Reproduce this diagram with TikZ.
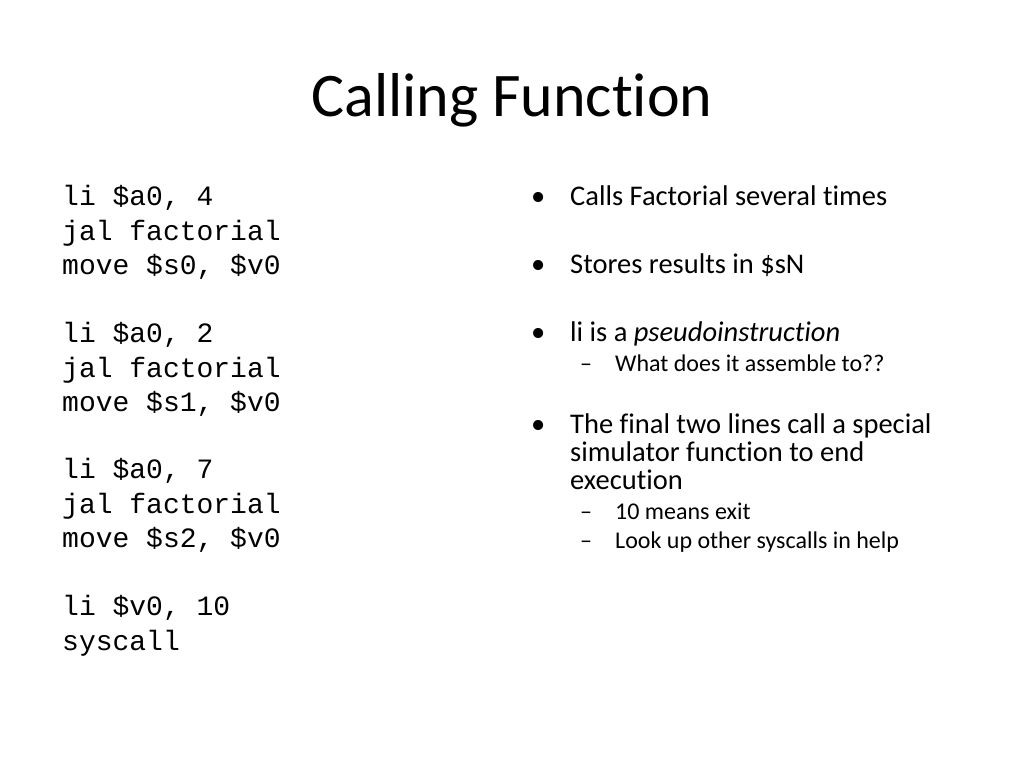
\documentclass[tikz,border=0pt]{standalone}
\usepackage{fontspec}
\setmainfont[Ligatures=NoCommon]{Carlito}
\newfontfamily\codefont{Liberation Mono}
\begin{document}
\begin{tikzpicture}[x=1pt,y=-1pt,
  code/.style={anchor=base west,inner sep=0pt,font=\codefont\fontsize{28}{30}\selectfont},
  btxt/.style={anchor=base west,inner sep=0pt,font=\fontsize{28.5}{30}\selectfont},
  stxt/.style={anchor=base west,inner sep=0pt,font=\fontsize{24}{26}\selectfont}]
\useasboundingbox[fill=white] (0,0) rectangle (1024,768);
\node[font=\fontsize{62}{66}\selectfont,anchor=base,inner sep=0pt] (title) at (512,116) {Calling Function};
\foreach \t/\y [count=\i] in {{li \$a0, 4}/205,{jal factorial}/240,{move \$s0, \$v0}/274,
 {li \$a0, 2}/342,{jal factorial}/377,{move \$s1, \$v0}/411,
 {li \$a0, 7}/478,{jal factorial}/513,{move \$s2, \$v0}/547,
 {li \$v0, 10}/615,{syscall}/650}
 \node[code] (c\i) at (62,\y) {\t};
\foreach \y [count=\i] in {205,273,341,433}
 \node[btxt] (d\i) at (531,\y) {•};
\node[btxt] (b1) at (570,205) {Calls Factorial several times};
\node[btxt] (b2) at (570,273) {Stores results in \$sN};
\node[btxt] (b3) at (570,341) {li is a \textit{pseudoinstruction}};
\node[stxt] (s1) at (580,371) {–};
\node[stxt] (s1t) at (615,371) {What does it assemble to??};
\node[btxt] (b4) at (570,433) {The final two lines call a special};
\node[btxt] (b4b) at (570,461) {simulator function to end};
\node[btxt] (b4c) at (570,489) {execution};
\node[stxt] (s2) at (580,519) {–};
\node[stxt] (s2t) at (615,519) {10 means exit};
\node[stxt] (s3) at (580,548) {–};
\node[stxt] (s3t) at (615,548) {Look up other syscalls in help};
\end{tikzpicture}
\end{document}
